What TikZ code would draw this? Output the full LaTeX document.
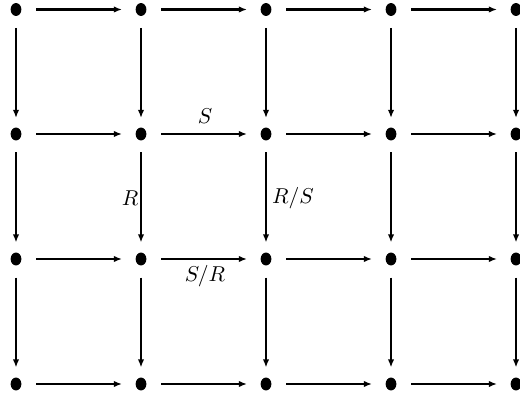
\documentclass[tikz,border=0pt]{standalone}
\usetikzlibrary{arrows.meta,shapes.geometric}
\begin{document}
\begin{tikzpicture}[x=0.465pt,y=-0.465pt,
  dot/.style={fill=black,ellipse,inner sep=0pt,minimum width=5pt,minimum height=6pt},
  arr/.style={line width=1pt,-{Latex[length=3.8pt,width=3pt]}},
  lbl/.style={font=\fontsize{10}{12}\selectfont,inner sep=0pt}]
\useasboundingbox (0,0) rectangle (520,397);
\foreach \i/\x in {0/16,1/141,2/266,3/391,4/516}{
  \foreach \j/\y in {0/9.5,1/134,2/259,3/384}{
    \node[dot] (n\i\j) at (\x,\y) {};
  }
}
\foreach \i/\x in {0/16,1/141,2/266,3/391,4/516}{
  \foreach \j/\y in {0/9.5,1/134,2/259}{
    \coordinate (vs\i\j) at (\x,\y+18.5);
    \coordinate (ve\i\j) at (\x,\y+108.5);
    \draw[arr] (vs\i\j) -- (ve\i\j);
  }
}
\foreach \i/\x in {0/16,1/141,2/266,3/391}{
  \foreach \j/\y in {0/9.5,1/134,2/259,3/384}{
    \coordinate (hs\i\j) at (\x+20,\y);
    \coordinate (he\i\j) at (\x+106,\y);
    \draw[arr] (hs\i\j) -- (he\i\j);
  }
}
\node[lbl] (lS) at (205,116) {$S$};
\node[lbl] (lR) at (130,198) {$R$};
\node[lbl] (lRS) at (293,198) {$R/S$};
\node[lbl] (lSR) at (205,276) {$S/R$};
\end{tikzpicture}
\end{document}
